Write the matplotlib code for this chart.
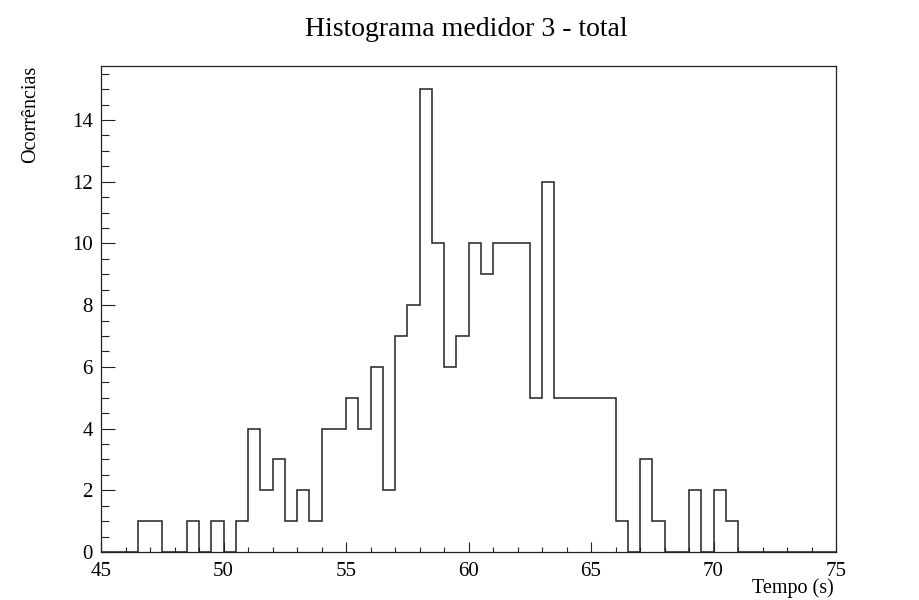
import matplotlib
matplotlib.use("Agg")
import matplotlib.pyplot as plt
import numpy as np
from matplotlib.ticker import MultipleLocator

# histogram definition (ROOT style TH1, 60 bins of 0.5 s)
bin_lo = 45.0
bin_hi = 75.0
counts = [
    0, 0, 0, 1, 1, 0, 0, 1, 0, 1,      # 45 - 50
    0, 1, 4, 2, 3, 1, 2, 1, 4, 4,      # 50 - 55
    5, 4, 6, 2, 7, 8, 15, 10, 6, 7,    # 55 - 60
    10, 9, 10, 10, 10, 5, 12, 5, 5, 5, # 60 - 65
    5, 5, 1, 0, 3, 1, 0, 0, 2, 0,      # 65 - 70
    2, 1, 0, 0, 0, 0, 0, 0, 0, 0,      # 70 - 75
]

title = "Histograma medidor 3 - total"
xlabel = "Tempo (s)"
ylabel = "Ocorrências"

plt.rcParams["font.family"] = ["Liberation Serif", "DejaVu Serif"]

edges = np.linspace(bin_lo, bin_hi, len(counts) + 1)
ymax = max(counts) * 1.05

fig = plt.figure(figsize=(9.19, 6.0), dpi=100)
ax = fig.add_axes([101 / 919, 1 - 552 / 600, 735 / 919, 486 / 600])

ax.stairs(counts, edges, color="#222222", linewidth=1.1, baseline=0)

ax.set_xlim(bin_lo, bin_hi)
ax.set_ylim(0, ymax)

ax.xaxis.set_major_locator(MultipleLocator(5))
ax.xaxis.set_minor_locator(MultipleLocator(1))
ax.yaxis.set_major_locator(MultipleLocator(2))
ax.yaxis.set_minor_locator(MultipleLocator(0.5))
ax.tick_params(axis="both", which="both", direction="in", top=False, right=False,
               width=0.8, color="#222222", labelsize=15)
ax.tick_params(axis="x", which="major", length=7, pad=7)
ax.tick_params(axis="x", which="minor", length=3.5)
ax.tick_params(axis="y", which="major", length=10, pad=6)
ax.tick_params(axis="y", which="minor", length=5.5)
for sp in ax.spines.values():
    sp.set_linewidth(0.9)
    sp.set_color("#222222")

fig.text(466 / 919, 1 - 29 / 600, title, ha="center", va="center", fontsize=20)
fig.text(31 / 919, 1 - 66 / 600, ylabel, rotation=90, ha="center", va="top", fontsize=14.5)
fig.text(834 / 919, 1 - 588 / 600, xlabel, ha="right", va="center", fontsize=14.5)

fig.savefig("out.png", dpi=100)
